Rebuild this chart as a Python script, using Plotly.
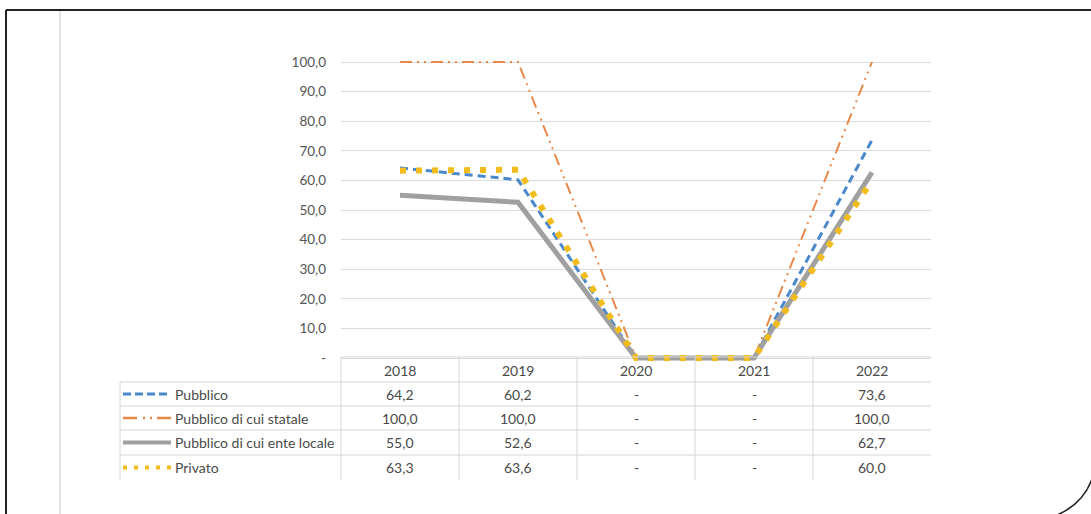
import plotly.graph_objects as go

W, H = 1091, 514

years = ["2018", "2019", "2020", "2021", "2022"]
series_names = ["Pubblico", "Pubblico di cui statale", "Pubblico di cui ente locale", "Privato"]
pubblico = [64.2, 60.2, 0, 0, 73.6]
statale = [100.0, 100.0, 0, 0, 100.0]
ente_locale = [55.0, 52.6, 0, 0, 62.7]
privato = [63.3, 63.6, 0, 0, 60.0]
y_ticks = [0, 10, 20, 30, 40, 50, 60, 70, 80, 90, 100]

series_values = [pubblico, statale, ente_locale, privato]
colors = ["#4a88cc", "#e8894a", "#a0a0a0", "#f2bd1c"]
widths = [3, 2, 5, 6]
dashes = ["8px,5px", "12px,5px,2px,5px,2px,5px", "solid", "6px,10px"]


def fmt(v):
    return "-" if v == 0 else f"{v:.1f}".replace(".", ",")


def px_x(x):
    return x / W


def px_y(y):
    return 1 - y / H


# plot-area geometry (pixels)
x_left, x_right = 341, 931
y0_px, y100_px = 358, 62
ppu = (y0_px - y100_px) / 100.0
ymin, ymax = -2, 102
dom_y = [px_y(y0_px - ymin * ppu), px_y(y0_px - ymax * ppu)]

fig = go.Figure()
xs = list(range(len(years)))
for name, vals, c, w, d in zip(series_names, series_values, colors, widths, dashes):
    fig.add_trace(go.Scatter(
        x=xs, y=vals, mode="lines", name=name,
        line=dict(color=c, width=w, dash=d),
        showlegend=False, hoverinfo="skip",
    ))

font_family = "Lato, 'Open Sans', sans-serif"
txt_color = "#4a4a4a"
tsize = 14

fig.update_layout(
    width=W, height=H,
    margin=dict(l=0, r=0, t=0, b=0),
    paper_bgcolor="white", plot_bgcolor="white",
    font=dict(family=font_family, size=tsize, color=txt_color),
    xaxis=dict(
        domain=[px_x(x_left), px_x(x_right)],
        range=[-0.5, len(years) - 0.5],
        showticklabels=False, showgrid=False, zeroline=False,
        showline=False, ticks="", fixedrange=True,
    ),
    yaxis=dict(
        domain=dom_y,
        range=[ymin, ymax],
        tickvals=y_ticks,
        ticktext=[fmt(v) for v in y_ticks],
        showgrid=True, gridcolor="#dcdcdc", gridwidth=1,
        zeroline=False, showline=False, ticks="",
        ticklabelstandoff=14,
        tickfont=dict(size=13.5, color="#555555"),
        automargin=False, fixedrange=True,
    ),
)

shapes = []
grid_c = "#d6d6d6"
# table geometry
row_lines = [357, 382, 406, 430, 455]
table_bottom = 480
col_w = (x_right - x_left) / len(years)
# header top line
shapes.append(dict(type="line", xref="paper", yref="paper",
                   x0=px_x(x_left), x1=px_x(x_right), y0=px_y(row_lines[0]), y1=px_y(row_lines[0]),
                   line=dict(color=grid_c, width=1)))
for yl in row_lines[1:]:
    shapes.append(dict(type="line", xref="paper", yref="paper",
                       x0=px_x(120), x1=px_x(x_right), y0=px_y(yl), y1=px_y(yl),
                       line=dict(color=grid_c, width=1)))
# vertical lines
for i in range(len(years)):
    xv = x_left + i * col_w
    shapes.append(dict(type="line", xref="paper", yref="paper",
                       x0=px_x(xv), x1=px_x(xv), y0=px_y(row_lines[0]), y1=px_y(table_bottom),
                       line=dict(color=grid_c, width=1)))
shapes.append(dict(type="line", xref="paper", yref="paper",
                   x0=px_x(120), x1=px_x(120), y0=px_y(row_lines[1]), y1=px_y(table_bottom),
                   line=dict(color=grid_c, width=1)))

annotations = []
header_c = (row_lines[0] + row_lines[1]) / 2
for i, yr in enumerate(years):
    annotations.append(dict(x=i, y=px_y(header_c + 1), xref="x", yref="paper", text=yr,
                            showarrow=False, xanchor="center", yanchor="middle",
                            font=dict(size=tsize, color=txt_color)))
row_bounds = row_lines[1:] + [table_bottom]
key_dashes = ["8px,4px", "14px,6px,2px,5px,2px,5px", "solid", "4px,7px"]
key_widths = [3, 2.5, 4, 4]
for r, (name, vals, c) in enumerate(zip(series_names, series_values, colors)):
    yc = (row_bounds[r] + row_bounds[r + 1]) / 2
    # legend key
    shapes.append(dict(type="line", xref="paper", yref="paper",
                       x0=px_x(123), x1=px_x(171), y0=px_y(yc), y1=px_y(yc),
                       line=dict(color=c, width=key_widths[r], dash=key_dashes[r])))
    annotations.append(dict(x=px_x(173), y=px_y(yc), xref="paper", yref="paper", text=name,
                            showarrow=False, xanchor="left", yanchor="middle",
                            font=dict(size=tsize, color=txt_color)))
    for i, v in enumerate(vals):
        annotations.append(dict(x=i, y=px_y(yc), xref="x", yref="paper", text=fmt(v),
                                showarrow=False, xanchor="center", yanchor="middle",
                                font=dict(size=tsize, color=txt_color)))

# page frame
shapes.append(dict(type="line", xref="paper", yref="paper",
                   x0=px_x(6), x1=1.0, y0=px_y(10), y1=px_y(10),
                   line=dict(color="#222222", width=2)))
shapes.append(dict(type="line", xref="paper", yref="paper",
                   x0=px_x(6), x1=px_x(6), y0=px_y(10), y1=0,
                   line=dict(color="#222222", width=2)))
shapes.append(dict(type="line", xref="paper", yref="paper",
                   x0=px_x(60), x1=px_x(60), y0=px_y(11), y1=0,
                   line=dict(color="#e2e2e2", width=2)))
shapes.append(dict(type="path", xref="paper", yref="paper",
                   path=f"M {px_x(1057)},{px_y(515)} Q {px_x(1083)},{px_y(504)} {px_x(1092)},{px_y(479)}",
                   line=dict(color="#222222", width=1.5)))

fig.update_layout(shapes=shapes, annotations=annotations)
fig.write_html("out.html", config={"displayModeBar": False},
               post_script="document.body.style.margin='0';")
